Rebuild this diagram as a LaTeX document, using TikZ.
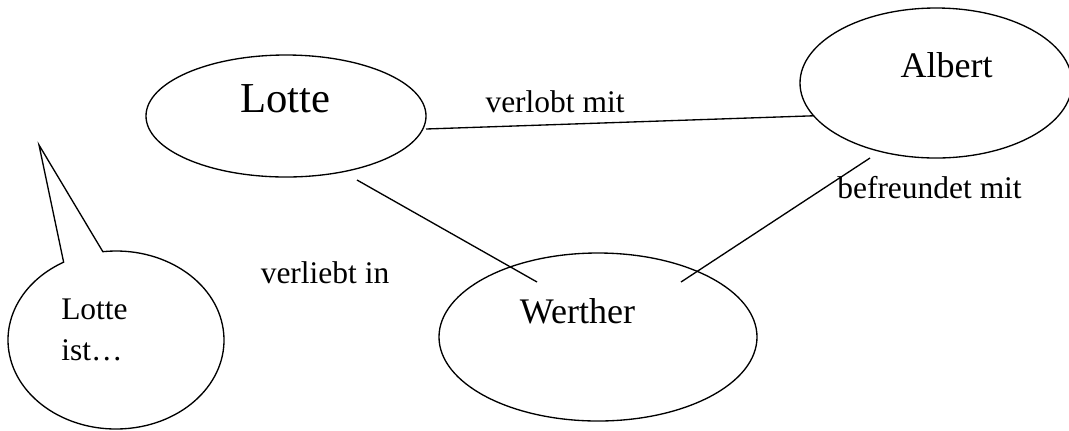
\documentclass[tikz,border=0pt]{standalone}
\usepackage{fontspec}
\setmainfont{Liberation Serif}
\usetikzlibrary{shapes.geometric,calc}
\begin{document}
\begin{tikzpicture}[x=0.75pt,y=-0.75pt,
  oval/.style={draw,ellipse,line width=1pt,inner sep=0pt,outer sep=0pt},
  link/.style={draw,line width=1pt},
  lbl/.style={font=\fontsize{23.6}{30.75}\selectfont,anchor=base,inner sep=0pt},
  big/.style={font=\fontsize{27}{32}\selectfont,anchor=base,inner sep=0pt},
  huge/.style={font=\fontsize{32}{38}\selectfont,anchor=base,inner sep=0pt}]
\useasboundingbox (0,0) rectangle (1069,430);
% ellipses
\node[oval,minimum width=210pt,minimum height=91.5pt] (lotte) at (286,116) {};
\node[oval,minimum width=204pt,minimum height=112.5pt] (albert) at (936,83) {};
\node[oval,minimum width=238.5pt,minimum height=126pt] (werther) at (598,337) {};
% names
\node[huge] (lotteT) at (285.5,112) {Lotte};
\node[big] (albertT) at (946.5,77) {Albert};
\node[big] (wertherT) at (577.5,323) {Werther};
% connectors
\draw[link] ([yshift=-9.75pt]lotte.east) -- (albert.-165);
\draw[link] ($(lotte.center)+(71,64)$) -- ($(werther.center)+(-61,-55)$);
\draw[link] ($(albert.center)+(-66,75)$) -- ($(werther.center)+(83,-55)$);
% labels
\node[lbl] (l1) at (555,112) {verlobt mit};
\node[lbl] (l2) at (929.5,198) {befreundet mit};
\node[lbl] (l3) at (325,283) {verliebt in};
% speech bubble
\coordinate (bc) at (116,340);
\coordinate (tip) at (39,145);
\draw[line width=1pt] (tip) -- ($(bc)+(97:81pt and 66.75pt)$)
  arc[start angle=97,end angle=-241,x radius=81pt,y radius=66.75pt] -- cycle;
\node[lbl,anchor=base west,align=left] (bubble) at (61,360) {Lotte\\ist…};
\end{tikzpicture}
\end{document}
